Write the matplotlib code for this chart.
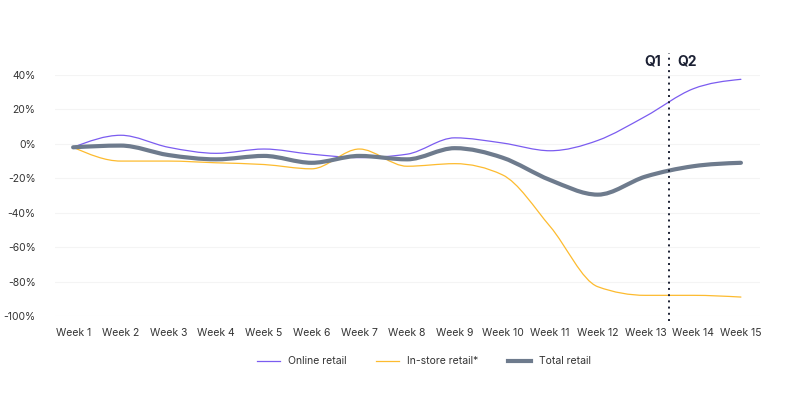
import numpy as np
import matplotlib
matplotlib.use('Agg')
import matplotlib.pyplot as plt
from matplotlib.path import Path
from matplotlib.patches import PathPatch
from matplotlib.lines import Line2D

plt.rcParams['font.family'] = ['Inter', 'DejaVu Sans']

# data
weeks = ['Week %d' % i for i in range(1, 16)]
online = [-2, 5, -2, -5.5, -3, -6, -8, -6, 3.5, 0.5, -4, 2, 16, 32, 37.5]
instore = [-2, -10, -10, -11, -12, -14.5, -3, -13, -11.5, -18, -48, -83, -88, -88, -89]
total = [-2, -1, -6.5, -9, -7, -11, -7, -9, -2.5, -8, -21, -29.5, -19, -13, -11]
q_split = 13.5


def monotone_path(x, y):
    # smooth curve (monotone cubic, like d3 curveMonotoneX) as bezier path
    x = np.asarray(x, float)
    y = np.asarray(y, float)
    h = np.diff(x)
    s = np.diff(y) / h
    n = len(x)
    t = np.zeros(n)
    for i in range(1, n - 1):
        p = (s[i - 1] * h[i] + s[i] * h[i - 1]) / (h[i - 1] + h[i])
        t[i] = (np.sign(s[i - 1]) + np.sign(s[i])) * min(abs(s[i - 1]), abs(s[i]), 0.5 * abs(p))
    t[0] = (3 * s[0] - t[1]) / 2
    t[-1] = (3 * s[-1] - t[-2]) / 2
    verts = [(x[0], y[0])]
    codes = [Path.MOVETO]
    for i in range(n - 1):
        d = h[i] / 3
        verts += [(x[i] + d, y[i] + t[i] * d), (x[i + 1] - d, y[i + 1] - t[i + 1] * d), (x[i + 1], y[i + 1])]
        codes += [Path.CURVE4] * 3
    return Path(verts, codes)


c_online = '#7b5cf0'
c_instore = '#fdbb2f'
c_total = '#6e7b8d'

fig = plt.figure(figsize=(8, 4.09), dpi=100)
ax = fig.add_axes([0.06875, 0.2274, 0.88125, 0.5892])

x = np.arange(1, 16)
for vals, col, lw in [(online, c_online, 0.9), (instore, c_instore, 0.9), (total, c_total, 3.0)]:
    ax.add_patch(PathPatch(monotone_path(x, vals), fill=False, edgecolor=col, lw=lw,
                           capstyle='round', joinstyle='round', clip_on=False, zorder=3))

ax.set_xlim(0.62, 15.4)
ax.set_ylim(-100, 40)
ax.set_yticks(range(-100, 41, 20))
ax.set_yticklabels(['%d%%' % v for v in range(-100, 41, 20)])
ax.set_xticks(x)
ax.set_xticklabels(weeks)
ax.tick_params(length=0, labelsize=7.5, colors='#333333')
ax.tick_params(axis='y', pad=14)
ax.tick_params(axis='x', pad=9)
ax.grid(axis='y', color='#f4f4f4', lw=0.8)
ax.set_axisbelow(True)
for sp in ax.spines.values():
    sp.set_visible(False)

# quarter split
ax.plot([q_split, q_split], [-103, 53], ls=(0, (1, 2.2)), color='#1b2033', lw=1.4, clip_on=False, zorder=4)
ax.text(q_split - 0.17, 48, 'Q1', ha='right', va='center', fontsize=10, fontweight='bold', color='#1b2033')
ax.text(q_split + 0.17, 48, 'Q2', ha='left', va='center', fontsize=10, fontweight='bold', color='#1b2033')

handles = [Line2D([], [], color=c_online, lw=0.9),
           Line2D([], [], color=c_instore, lw=0.9),
           Line2D([], [], color=c_total, lw=3.0)]
fig.legend(handles, ['Online retail', 'In-store retail*', 'Total retail'], loc='center',
           bbox_to_anchor=(0.53, 0.117), ncol=3, frameon=False, fontsize=7.5,
           handlelength=2.2, columnspacing=2.8, labelcolor='#333333')

fig.savefig('out.png', dpi=100)
